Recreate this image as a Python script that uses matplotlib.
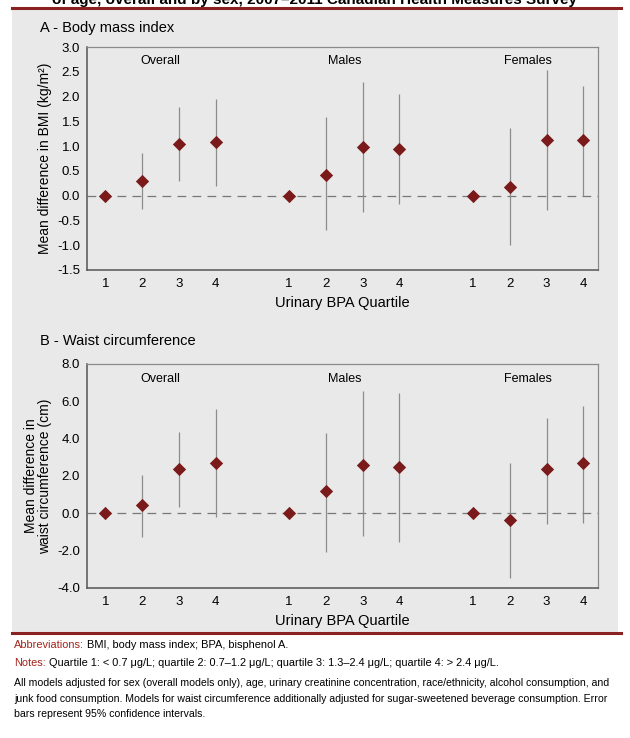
import numpy as np
import matplotlib.pyplot as plt
from matplotlib.patches import Rectangle
from matplotlib.lines import Line2D

plt.rcParams['font.family'] = ['Liberation Sans', 'DejaVu Sans']

# quartile positions (three groups of four, gap between groups)
positions = [1, 2, 3, 4, 6, 7, 8, 9, 11, 12, 13, 14]
tick_labels = ['1', '2', '3', '4'] * 3
groups = ['Overall', 'Males', 'Females']
group_centres = [2.5, 7.5, 12.5]

# A - BMI: estimate, lower and upper 95% CI
bmi_est = [0.0, 0.30, 1.04, 1.08, 0.0, 0.41, 0.99, 0.95, 0.0, 0.18, 1.12, 1.12]
bmi_lo = [0.0, -0.26, 0.30, 0.19, 0.0, -0.70, -0.32, -0.17, 0.0, -0.99, -0.28, 0.0]
bmi_hi = [0.0, 0.87, 1.79, 1.96, 0.0, 1.59, 2.30, 2.06, 0.0, 1.37, 2.53, 2.21]

# B - waist circumference
waist_est = [0.0, 0.45, 2.36, 2.70, 0.0, 1.19, 2.61, 2.47, 0.0, -0.38, 2.40, 2.70]
waist_lo = [0.0, -1.26, 0.36, -0.20, 0.0, -2.07, -1.24, -1.53, 0.0, -3.44, -0.59, -0.50]
waist_hi = [0.0, 2.07, 4.36, 5.59, 0.0, 4.32, 6.56, 6.47, 0.0, 2.70, 5.10, 5.73]

W, H = 630, 738
BG = '#e9e9e9'
RED = '#7a1a1a'
fig = plt.figure(figsize=(W / 100, H / 100), dpi=100)


def fx(px):
    return px / W


def fy(px):
    return 1 - px / H


# page furniture: grey panel and dark red rules
fig.patches.append(Rectangle((fx(12), fy(632)), fx(606), fy(9) - fy(632),
                             transform=fig.transFigure, facecolor=BG,
                             edgecolor='none', zorder=-10))
for ypx in (8, 633):
    fig.lines.append(Line2D([fx(12), fx(621)], [fy(ypx), fy(ypx)],
                            transform=fig.transFigure, color='#8b2222', lw=2.2))
fig.text(0.5, fy(4), 'of age, overall and by sex, 2007\u20132011 Canadian Health Measures Survey',
         ha='center', va='baseline', fontsize=11, fontweight='bold')


def panel(top_px, bottom_px, est, lo, hi, ylim, yticks, title, title_y, ylabel, label_x):
    ax = fig.add_axes([fx(87), fy(bottom_px), fx(511), (bottom_px - top_px) / H])
    ax.set_facecolor(BG)
    est = np.array(est)
    lo = np.array(lo)
    hi = np.array(hi)
    ax.axhline(0, color='#777777', lw=0.9, ls=(0, (7, 5)), zorder=1)
    ax.vlines(positions, lo, hi, color='#8c8c8c', lw=0.9, zorder=2)
    ax.scatter(positions, est, marker='D', s=46, color=RED, zorder=3, linewidths=0)
    ax.set_xlim(0.5, 14.4)
    ax.set_ylim(*ylim)
    ax.set_yticks(yticks)
    ax.set_yticklabels(['%.1f' % v for v in yticks])
    ax.set_xticks(positions)
    ax.set_xticklabels(tick_labels)
    ax.tick_params(length=0, labelsize=9.5, pad=6)
    ax.tick_params(axis='y', pad=5)
    for s in ('left', 'bottom'):
        ax.spines[s].set_color('#555555')
        ax.spines[s].set_linewidth(1.1)
    for s in ('top', 'right'):
        ax.spines[s].set_color('#8a8a8a')
        ax.spines[s].set_linewidth(0.9)
    for c, g in zip(group_centres, groups):
        ax.text(c, 0.935, g, transform=ax.get_xaxis_transform(), ha='center',
                va='center', fontsize=9)
    ax.set_xlabel('Urinary BPA Quartile', fontsize=10.5, labelpad=4)
    fig.text(fx(40), fy(title_y), title, fontsize=10.5, va='center', ha='left')
    fig.text(fx(label_x), fy((top_px + bottom_px) / 2), ylabel, rotation=90,
             ha='center', va='center', fontsize=10, linespacing=1.0)
    return ax


panel(47, 270, bmi_est, bmi_lo, bmi_hi, (-1.5, 3.0),
      [-1.5, -1.0, -0.5, 0.0, 0.5, 1.0, 1.5, 2.0, 2.5, 3.0],
      'A - Body mass index', 28, 'Mean difference in BMI (kg/m\u00b2)', 45)
panel(364, 588, waist_est, waist_lo, waist_hi, (-4.0, 8.0),
      [-4.0, -2.0, 0.0, 2.0, 4.0, 6.0, 8.0],
      'B - Waist circumference', 341, 'Mean difference in\nwaist circumference (cm)', 38)

# notes under the chart
fig.canvas.draw()
renderer = fig.canvas.get_renderer()
NOTE_SIZE = 7.6


def two_part(ypx, head, rest):
    t = fig.text(fx(14), fy(ypx), head, color='#a3231b', fontsize=NOTE_SIZE + 0.3, va='center')
    bb = t.get_window_extent(renderer)
    fig.text((bb.x1 + 3) / W, fy(ypx), rest, fontsize=NOTE_SIZE + 0.3, va='center')


two_part(645, 'Abbreviations:', 'BMI, body mass index; BPA, bisphenol A.')
two_part(663, 'Notes:', 'Quartile 1: < 0.7 \u03bcg/L; quartile 2: 0.7\u20131.2 \u03bcg/L; '
         'quartile 3: 1.3\u20132.4 \u03bcg/L; quartile 4: > 2.4 \u03bcg/L.')
notes = [
    'All models adjusted for sex (overall models only), age, urinary creatinine concentration, '
    'race/ethnicity, alcohol consumption, and',
    'junk food consumption. Models for waist circumference additionally adjusted for '
    'sugar-sweetened beverage consumption. Error',
    'bars represent 95% confidence intervals.',
]
for ypx, line in zip([683, 699, 714], notes):
    fig.text(fx(14), fy(ypx), line, fontsize=NOTE_SIZE, va='center')

fig.savefig('out.png', dpi=100)
